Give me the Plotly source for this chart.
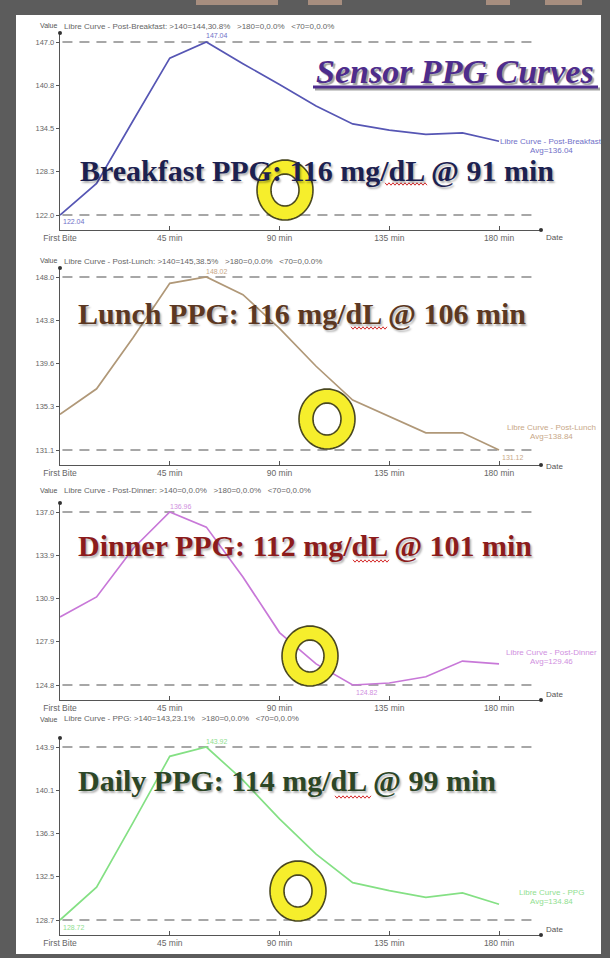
import numpy as np
import plotly.graph_objects as go

W, H = 610, 958

# ---- data -------------------------------------------------------------
minutes = [0, 15, 30, 45, 60, 75, 90, 105, 120, 135, 150, 165, 180]
tick_minutes = [0, 45, 90, 135, 180]
tick_labels = ["First Bite", "45 min", "90 min", "135 min", "180 min"]

breakfast = [122.04, 126.6, 135.7, 144.7, 147.04, 143.9, 140.9, 137.8, 135.2, 134.3, 133.7, 133.9, 132.7]
lunch = [134.6, 137.1, 142.1, 147.4, 148.02, 146.3, 143.0, 139.3, 136.0, 134.4, 132.8, 132.8, 131.12]
dinner = [129.6, 131.0, 134.4, 136.96, 135.9, 132.4, 128.5, 126.3, 124.82, 124.96, 125.4, 126.5, 126.3]
daily = [128.72, 131.6, 137.3, 143.1, 143.92, 141.0, 137.6, 134.5, 132.0, 131.3, 130.7, 131.1, 130.1]

curve_names = ["Post-Breakfast", "Post-Lunch", "Post-Dinner", "PPG"]
headlines = [
    "Breakfast PPG: 116 mg/dL @ 91 min",
    "Lunch PPG: 116 mg/dL @ 106 min",
    "Dinner PPG: 112 mg/dL @ 101 min",
    "Daily PPG: 114 mg/dL @ 99 min",
]
title_text = "Sensor PPG Curves"

# ---- styling ----------------------------------------------------------
line_colors = ["#5656b4", "#b09878", "#c878d8", "#84e084"]
label_colors = ["#7070c8", "#c8a888", "#d090e0", "#90e090"]
headline_colors = ["#1c2150", "#5c3822", "#8c1c1c", "#2c4626"]
headline_x = [78, 76, 76, 76]
headline_y = [170, 313, 545, 780]
ring_centers = [(285, 190), (327, 419), (310, 656), (298, 891)]
squiggles = [(385, 427, 184), (351, 388, 328), (353, 390, 561), (335, 372, 797)]
end_label_y = [(135, 144), (427, 436), (659, 668), (899, 908)]

STEP = 235            # vertical distance between panels (px)
X0, XEND = 60, 541    # x-axis start/end (px)
PX_PER_MIN = 2.439
Y_MAX, Y_MIN, Y_AXIS, Y_TOP = 42, 215, 230, 33

SANS = "Liberation Sans, Arial, sans-serif"
SERIF = "Liberation Serif, Times New Roman, serif"


def px(x):
    return x / W


def py(y):
    return 1 - y / H


fig = go.Figure()
shapes = []
annotations = []
layout_axes = {}

# page frame
shapes.append(dict(type="rect", xref="paper", yref="paper", x0=px(16), x1=px(601),
                   y0=py(954), y1=py(15), fillcolor="white", line=dict(width=0), layer="below"))
# pale orange patches along the top edge of the frame
for a, b in [(196, 278), (308, 342), (486, 510), (545, 582)]:
    shapes.append(dict(type="rect", xref="paper", yref="paper", x0=px(a), x1=px(b),
                       y0=py(5), y1=py(0), fillcolor="rgba(242,192,162,0.5)",
                       line=dict(width=0), layer="below"))

series = [breakfast, lunch, dinner, daily]
for k, vals in enumerate(series):
    off = STEP * k
    n = k + 1
    xs = "x" if n == 1 else f"x{n}"
    ys = "y" if n == 1 else f"y{n}"
    vmin, vmax = min(vals), max(vals)
    pxu = (Y_MIN - Y_MAX) / (vmax - vmin)
    lo = vmin - (Y_AXIS - Y_MIN) / pxu
    hi = vmax + (Y_MAX - Y_TOP) / pxu
    xmax = (XEND - X0) / PX_PER_MIN

    layout_axes["xaxis" if n == 1 else f"xaxis{n}"] = dict(
        domain=[px(X0), px(XEND)], range=[0, xmax], anchor=ys,
        showgrid=False, zeroline=False, showline=True, linecolor="#555", linewidth=1.4,
        ticks="inside", ticklen=4, tickcolor="#555", tickwidth=1,
        tickvals=tick_minutes, ticktext=tick_labels,
        tickfont=dict(family=SANS, size=8.5, color="#666"), fixedrange=True)
    yticks = np.linspace(vmin, vmax, 5)
    layout_axes["yaxis" if n == 1 else f"yaxis{n}"] = dict(
        domain=[py(Y_AXIS + off), py(Y_TOP + off)], range=[lo, hi], anchor=xs,
        showgrid=False, zeroline=False, showline=True, linecolor="#555", linewidth=1.4,
        ticks="outside", ticklen=3, tickcolor="#555",
        tickvals=list(yticks), ticktext=[f"{v:.1f}" for v in yticks],
        tickfont=dict(family=SANS, size=7.5, color="#666"), fixedrange=True)

    fig.add_trace(go.Scatter(x=minutes, y=vals, mode="lines", xaxis=xs, yaxis=ys,
                             line=dict(color=line_colors[k], width=1.7), hoverinfo="skip"))

    # dashed reference lines at the max and min
    for v in (vmax, vmin):
        shapes.append(dict(type="line", xref=xs, yref=ys, x0=1, x1=(535 - X0) / PX_PER_MIN,
                           y0=v, y1=v, line=dict(color="#8a8a8a", width=1.3, dash="10px,7px"),
                           layer="below"))

    # axis arrow ends
    for (cx, cy) in [(X0, Y_TOP + off), (XEND, Y_AXIS + off)]:
        shapes.append(dict(type="circle", xref="paper", yref="paper",
                           x0=px(cx - 2), x1=px(cx + 2), y0=py(cy + 2), y1=py(cy - 2),
                           fillcolor="#333", line=dict(width=0)))

    annotations.append(dict(xref="paper", yref="paper", x=px(48), y=py(20 + off), text="Value",
                            xanchor="center", showarrow=False,
                            font=dict(family=SANS, size=7, color="#555")))
    annotations.append(dict(xref="paper", yref="paper", x=px(544), y=py(231 + off), text="Date",
                            xanchor="left", showarrow=False, font=dict(family=SANS, size=8, color="#555")))

    # summary line over the chart
    above = [v for v in vals if v > 140]
    a140 = round(sum(above) / len(above)) if above else 0
    p140 = 100 * len(above) / len(vals)
    header = (f"Libre Curve - {curve_names[k]}: >140={a140},{p140:.1f}%   "
              f">180=0,0.0%   <70=0,0.0%")
    annotations.append(dict(xref="paper", yref="paper", x=px(62), y=py(20 + off), text=header,
                            xanchor="left", showarrow=False,
                            font=dict(family=SANS, size=8, color="#666")))

    # peak and minimum value labels
    i_max = vals.index(vmax)
    i_min = vals.index(vmin)
    annotations.append(dict(xref=xs, yref=ys, x=minutes[i_max], y=vmax, text=f"{vmax:.2f}",
                            xanchor="left", xshift=-2, yshift=6, showarrow=False,
                            font=dict(family=SANS, size=7, color=label_colors[k])))
    annotations.append(dict(xref=xs, yref=ys, x=minutes[i_min], y=vmin, text=f"{vmin:.2f}",
                            xanchor="left", xshift=1, yshift=-7, showarrow=False,
                            font=dict(family=SANS, size=7, color=label_colors[k])))

    # series name + average at the end of the curve
    avg = sum(vals) / len(vals)
    ly1, ly2 = end_label_y[k]
    annotations.append(dict(xref="paper", yref="paper", x=px(551), y=py(ly1), xanchor="center",
                            text=f"Libre Curve - {curve_names[k]}",
                            showarrow=False, font=dict(family=SANS, size=8, color=label_colors[k])))
    annotations.append(dict(xref="paper", yref="paper", x=px(551), y=py(ly2), xanchor="center",
                            text=f"Avg={avg:.2f}",
                            showarrow=False, font=dict(family=SANS, size=8, color=label_colors[k])))

    # yellow ring marker
    cx, cy = ring_centers[k]
    th = np.linspace(0, 2 * np.pi, 61)
    outer = [(cx + 28 * np.cos(t), cy + 30 * np.sin(t)) for t in th]
    inner = [(cx + 14 * np.cos(t), cy + 16 * np.sin(t)) for t in th[::-1]]

    def sub(pts):
        return "M " + " L ".join(f"{px(a):.5f},{py(b):.5f}" for a, b in pts) + " Z"

    shapes.append(dict(type="path", xref="paper", yref="paper", path=sub(outer) + " " + sub(inner),
                       fillcolor="#f6ee2c", line=dict(color="#4a4820", width=1.6), layer="above"))

    # headline with a soft shadow
    annotations.append(dict(xref="paper", yref="paper", x=px(headline_x[k]), y=py(headline_y[k]),
                            text=f"<b>{headlines[k]}</b>", xanchor="left", yanchor="middle",
                            showarrow=False,
                            font=dict(family=SERIF, size=30, color=headline_colors[k],
                                      shadow="1.5px 1.5px 2px rgba(0,0,0,0.3)")))

    # spell-check squiggle under "dL"
    sx0, sx1, sy = squiggles[k]
    zx = np.arange(sx0, sx1 + 0.1, 2.0)
    zpts = [(x, sy + (1.2 if i % 2 else -1.2)) for i, x in enumerate(zx)]
    shapes.append(dict(type="path", xref="paper", yref="paper",
                       path="M " + " L ".join(f"{px(a):.5f},{py(b):.5f}" for a, b in zpts),
                       line=dict(color="#d42a2a", width=1), layer="above"))

# title with underline and shadow
annotations.append(dict(xref="paper", yref="paper", x=px(455), y=py(72),
                        xanchor="center", yanchor="middle",
                        text=f"<b><i>{title_text}</i></b>", showarrow=False,
                        font=dict(family=SERIF, size=34, color="#4e2c8c",
                                  shadow="2px 2px 1px #a0a0a0")))
for dx, dy, col in [(2, 2, "#a0a0a0"), (0, 0, "#4e2c8c")]:
    shapes.append(dict(type="line", xref="paper", yref="paper", x0=px(313 + dx), x1=px(598 + dx),
                       y0=py(87 + dy), y1=py(87 + dy), line=dict(color=col, width=3)))

fig.update_layout(
    width=W, height=H, margin=dict(l=0, r=0, t=0, b=0, pad=0, autoexpand=False),
    paper_bgcolor="#5c5c5c", plot_bgcolor="rgba(0,0,0,0)",
    showlegend=False, shapes=shapes, annotations=annotations,
    **layout_axes,
)

fig.write_html("out.html")
